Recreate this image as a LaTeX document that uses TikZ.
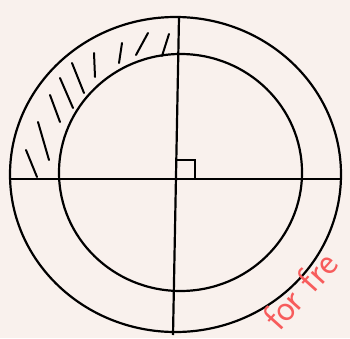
\documentclass[tikz,border=0pt]{standalone}
\usepackage{tikz}
\definecolor{paper}{RGB}{249,241,237}
\definecolor{stampred}{RGB}{247,92,92}
\begin{document}
\begin{tikzpicture}[x=1pt,y=1pt,
 rim/.style={draw=black,line width=2.2pt},
 hatch/.style={draw=black,line width=2pt,line cap=round},
 stamp/.style={text=stampred,font=\fontsize{38}{38}\selectfont\sffamily,inner sep=0pt}]
\fill[paper] (0,0) rectangle (350,338);
\useasboundingbox (0,0) rectangle (350,338);
\coordinate (outer) at (175.5,163.5);
\coordinate (inner) at (180.5,165.5);
\draw[rim] (outer) ellipse [x radius=165.5,y radius=157.5];
\draw[rim] (inner) ellipse [x radius=121.5,y radius=118.5];
\coordinate (n) at (179,321);
\coordinate (s) at (173,3);
\coordinate (w) at (10,159);
\coordinate (e) at (341,159);
\draw[rim] (n)--(s);
\draw[rim] (w)--(e);
\draw[rim,line width=1.6pt] (176,178) -| (195,159);
\foreach \xa/\ya/\xb/\yb in {26/188/37/161,38/216/49/178,50/243/60/216,60/260/73/230,
 72/275/84/245,94/285/95/261,122/295/119/275,148/305/136/283,169/304/162/282}
 \draw[hatch] (\xa,\ya)--(\xb,\yb);
\node[stamp,anchor=base west,rotate=48] (mark) at (279,5) {for fre};
\end{tikzpicture}
\end{document}
